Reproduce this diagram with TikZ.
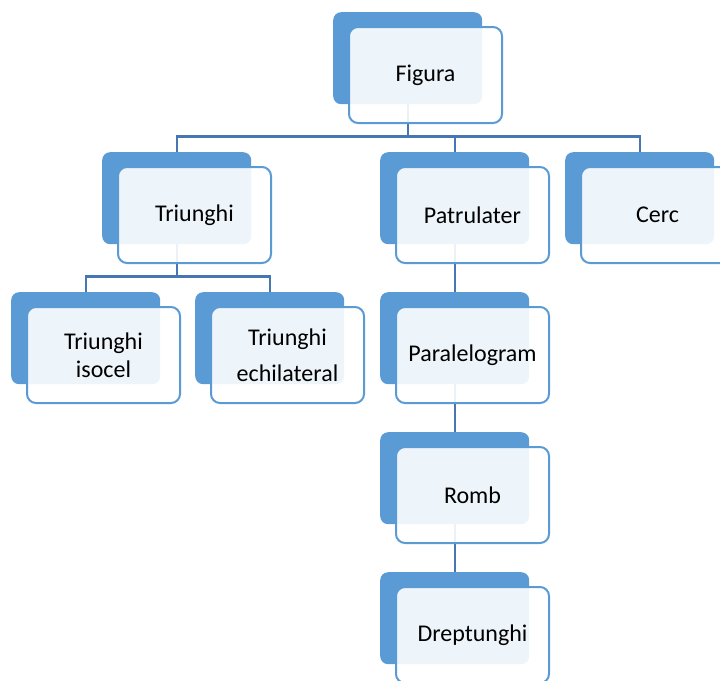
\documentclass[tikz,border=0pt]{standalone}
\usepackage{fontspec}
\setmainfont{Carlito}
\usetikzlibrary{backgrounds}
\definecolor{tileblue}{HTML}{5B9BD5}
\definecolor{linkblue}{HTML}{4677B2}
\begin{document}
\begin{tikzpicture}[x=1pt,y=-1pt,
  backtile/.style={fill=tileblue, rounded corners=8pt, minimum width=149pt,
    minimum height=92pt, inner sep=0pt, anchor=north west},
  fronttile/.style={draw=tileblue, line width=2pt, fill=white, fill opacity=0.9,
    text opacity=1, rounded corners=9pt, minimum width=153pt, minimum height=96pt,
    inner sep=0pt, anchor=north west, align=center,
    font=\fontsize{24}{28}\selectfont},
  link/.style={draw=linkblue, line width=2.4pt}]
\clip (0,0) rectangle (720,680);
% a tile: solid back plate with a translucent card shifted down-right
\newcommand\tile[4]{%
  \node[backtile] (#1B) at (#2,#3) {};
  \node[fronttile] (#1) at ([xshift=15pt,yshift=-14pt]#1B.north west) {#4};}
\tile{fig}{333}{12}{Figura}
\tile{tri}{102}{152}{Triunghi}
\tile{pat}{380}{152}{Patrulater}
\tile{cerc}{565}{152}{Cerc}
\tile{iso}{11}{292}{Triunghi\\isocel}
\tile{ech}{195}{292}{Triunghi\\[8pt]echilateral}
\tile{par}{380}{292}{Paralelogram}
\tile{romb}{380}{432}{Romb}
\tile{dr}{380}{572}{Dreptunghi}
\begin{pgfonlayer}{background}
  \draw[link] (figB.south) -- ++(0,32) -| (triB.north);
  \draw[link] (figB.south) -- ++(0,32) -| (patB.north);
  \draw[link] (figB.south) -- ++(0,32) -| (cercB.north);
  \draw[link] (triB.south) -- ++(0,32) -| (isoB.north);
  \draw[link] (triB.south) -- ++(0,32) -| (echB.north);
  \draw[link] (patB.south) -- (parB.north);
  \draw[link] (parB.south) -- (rombB.north);
  \draw[link] (rombB.south) -- (drB.north);
\end{pgfonlayer}
\end{tikzpicture}
\end{document}
